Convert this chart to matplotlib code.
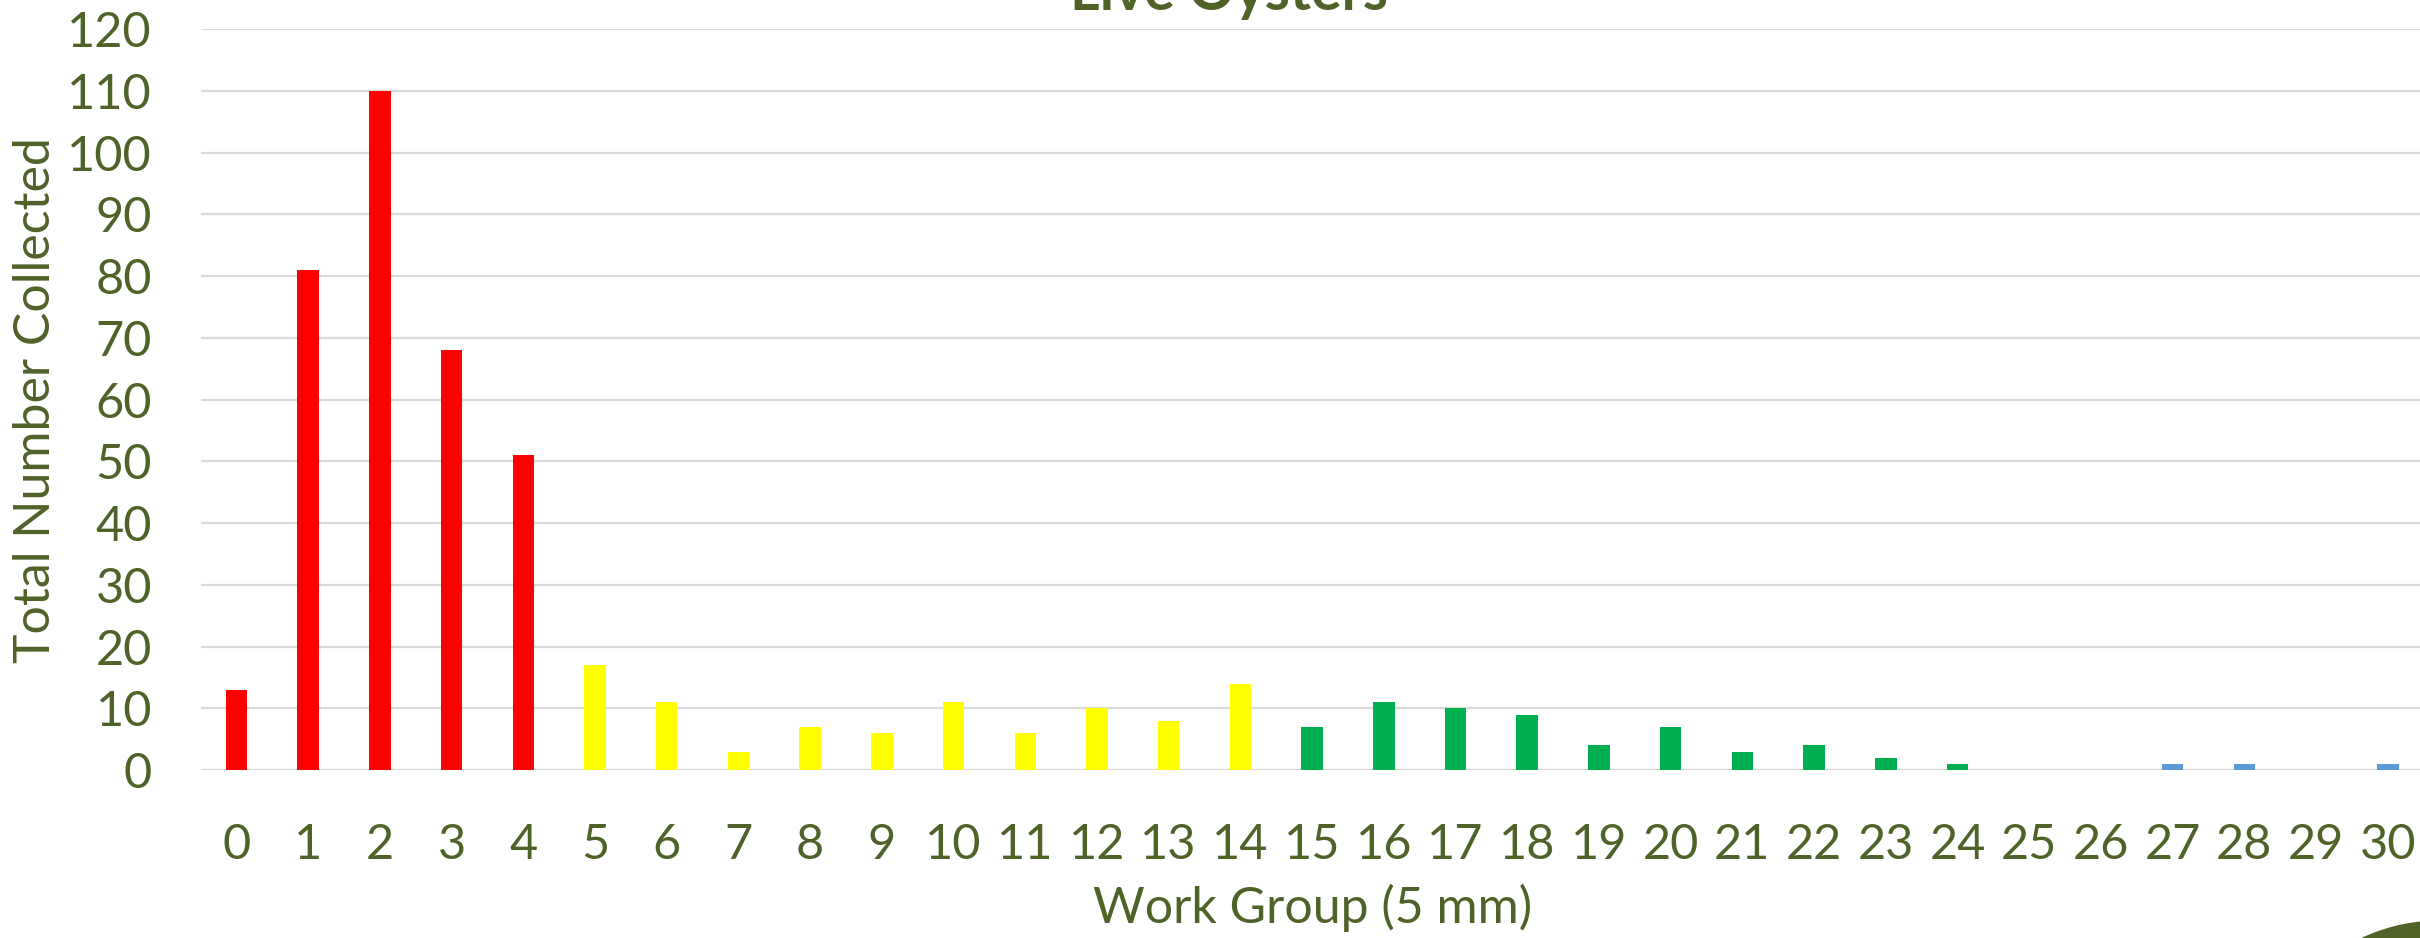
import numpy as np
import matplotlib
matplotlib.use('Agg')
import matplotlib.pyplot as plt
import matplotlib.patches as mpatches

# size classes (5 mm work groups) and counts
groups = list(range(31))
counts = [13, 81, 110, 68, 51, 17, 11, 3, 7, 6, 11, 6, 10, 8, 14,
          7, 11, 10, 9, 4, 7, 3, 4, 2, 1, 0, 0, 1, 1, 0, 1]
bar_colors = (['#FF0000'] * 5 + ['#FFFF00'] * 10 +
              ['#00B050'] * 10 + ['#5B9BD5'] * 6)
y_ticks = list(range(0, 121, 10))

TEXT = '#4F6228'
plt.rcParams['font.family'] = ['Lato', 'DejaVu Sans']

fig = plt.figure(figsize=(24.2, 9.38), dpi=100)
ax = fig.add_axes([0.0829, 0.179, 0.9186, 0.79])

ax.bar(groups, counts, width=0.3, color=bar_colors, zorder=3)

ax.set_xlim(-0.5, 30.5)
ax.set_ylim(0, 120)
ax.set_yticks(y_ticks)
ax.set_xticks(groups)
ax.grid(axis='y', color='#D9D9D9', linewidth=1.6, zorder=0)
for s in ax.spines.values():
    s.set_visible(False)
ax.tick_params(length=0, labelsize=35, colors=TEXT)
ax.tick_params(axis='x', pad=38)
ax.tick_params(axis='y', pad=35)

ax.set_xlabel('Work Group (5 mm)', fontsize=36, color=TEXT, labelpad=12)
ax.set_ylabel('Total Number Collected', fontsize=36, color=TEXT, labelpad=6)

fig.text(0.508, 1 - 10 / 938, 'Live Oysters', ha='center', va='baseline',
         fontsize=41, fontweight='bold', color=TEXT)

# partial logo in the bottom right corner
logo = mpatches.Circle((2440, -167), 186, transform=None, facecolor=TEXT,
                       edgecolor='white', linewidth=2, zorder=10)
fig.patches.append(logo)

fig.savefig('out.png', dpi=100)
